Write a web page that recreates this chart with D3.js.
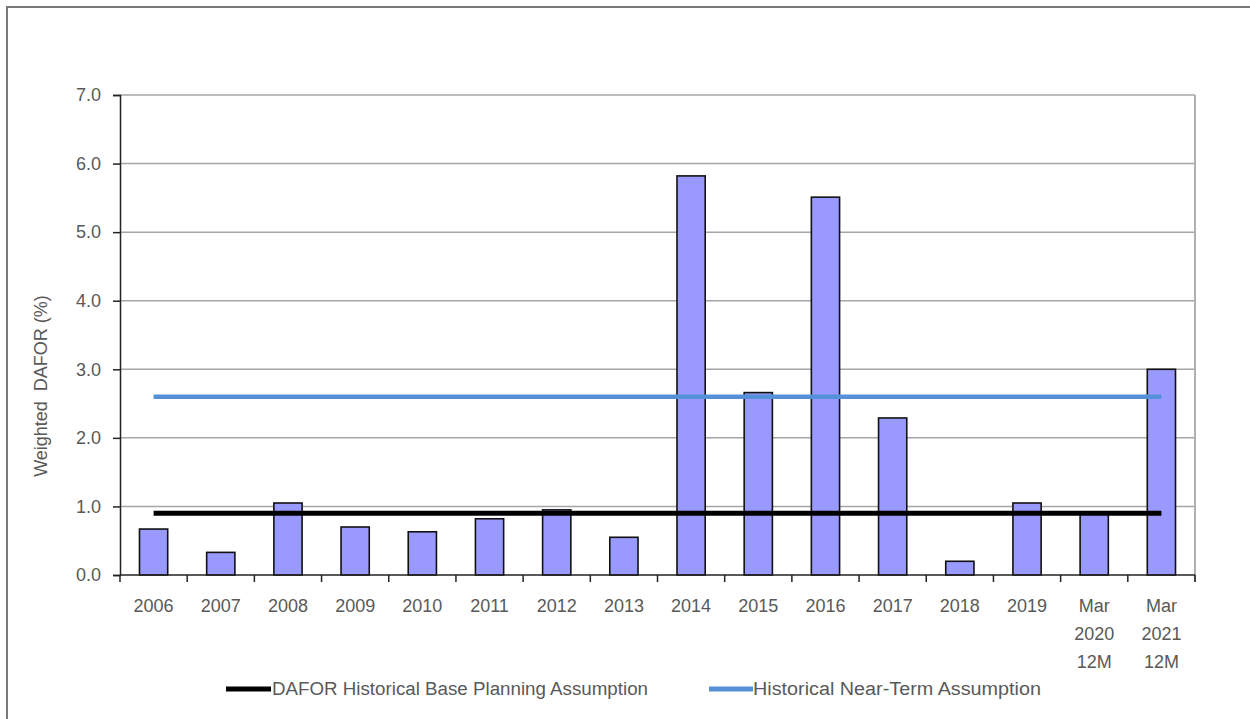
<!DOCTYPE html>
<html>
<head>
<meta charset="utf-8">
<script src="https://cdn.jsdelivr.net/npm/d3@7"></script>
<style>
  html, body { margin: 0; padding: 0; background: #fff; }
  svg { display: block; }
  text { font-family: "Liberation Sans", Arial, sans-serif; fill: #595959; }
</style>
</head>
<body>
<svg id="chart" width="1250" height="719"></svg>
<script>
// Categories (multi-line labels use "\n")
const categories = ["2006","2007","2008","2009","2010","2011","2012","2013",
  "2014","2015","2016","2017","2018","2019","Mar\n2020\n12M","Mar\n2021\n12M"];
// Weighted DAFOR (%) per period
const dafor = [0.67, 0.33, 1.05, 0.70, 0.63, 0.82, 0.95, 0.55,
  5.82, 2.66, 5.51, 2.29, 0.20, 1.05, 0.90, 3.00];
// Reference assumptions
const baseAssumption = 0.9;
const nearTermAssumption = 2.6;
const yTicks = [0, 1, 2, 3, 4, 5, 6, 7];
const legendLabels = ["DAFOR Historical Base Planning Assumption", "Historical Near-Term Assumption"];

const svg = d3.select("#chart");
const plot = { left: 120, right: 1195, top: 95, bottom: 575 };

// Outer frame (top and left edges)
svg.append("path")
  .attr("d", "M7,719 L7,7 L1250,7")
  .attr("fill", "none").attr("stroke", "#7a7a7a").attr("stroke-width", 2);

const x = d3.scaleBand().domain(categories)
  .range([plot.left, plot.right]).paddingInner(0.58).paddingOuter(0.29);
const y = d3.scaleLinear().domain([0, 7]).range([plot.bottom, plot.top]);

// Gridlines
svg.append("g").selectAll("line").data(yTicks.slice(1)).join("line")
  .attr("x1", plot.left).attr("x2", plot.right)
  .attr("y1", d => y(d)).attr("y2", d => y(d))
  .attr("stroke", "#a6a6a6").attr("stroke-width", 1.5);

// Right border of plot area
svg.append("line")
  .attr("x1", plot.right).attr("x2", plot.right)
  .attr("y1", plot.top).attr("y2", plot.bottom + 7)
  .attr("stroke", "#b0b0b0").attr("stroke-width", 2);

// Bars
svg.append("g").selectAll("rect").data(dafor).join("rect")
  .attr("x", (d, i) => x(categories[i]))
  .attr("width", x.bandwidth())
  .attr("y", d => y(d))
  .attr("height", d => y(0) - y(d))
  .attr("fill", "#9999ff").attr("stroke", "#111").attr("stroke-width", 1.6);

// Assumption lines from first to last category centre
const xc = c => x(c) + x.bandwidth() / 2;
const first = categories[0], last = categories[categories.length - 1];
svg.append("line")
  .attr("x1", xc(first)).attr("x2", xc(last))
  .attr("y1", y(nearTermAssumption)).attr("y2", y(nearTermAssumption))
  .attr("stroke", "#5591d8").attr("stroke-width", 4.5);
svg.append("line")
  .attr("x1", xc(first)).attr("x2", xc(last))
  .attr("y1", y(baseAssumption)).attr("y2", y(baseAssumption))
  .attr("stroke", "#000").attr("stroke-width", 5);

// Y axis
const yAxis = svg.append("g").attr("transform", `translate(${plot.left},0)`)
  .call(d3.axisLeft(y).tickValues(yTicks).tickFormat(d3.format(".1f")).tickSize(7).tickPadding(12));
yAxis.select(".domain").attr("stroke", "#222").attr("stroke-width", 1.5);
yAxis.selectAll(".tick line").attr("stroke", "#222").attr("stroke-width", 1.5);
yAxis.selectAll("text").attr("font-size", 18).attr("fill", "#595959")
  .attr("font-family", "Liberation Sans, Arial, sans-serif");

// X axis baseline and ticks at category boundaries
const step = x.step();
const x0 = plot.left;
svg.append("line")
  .attr("x1", plot.left).attr("x2", plot.right)
  .attr("y1", y(0)).attr("y2", y(0))
  .attr("stroke", "#222").attr("stroke-width", 1.5);
svg.append("g").selectAll("line").data(d3.range(categories.length + 1)).join("line")
  .attr("x1", k => x0 + k * step).attr("x2", k => x0 + k * step)
  .attr("y1", y(0)).attr("y2", y(0) + 7)
  .attr("stroke", "#222").attr("stroke-width", 1.5);

// X labels
const xl = svg.append("g").selectAll("text").data(categories).join("text")
  .attr("text-anchor", "middle").attr("font-size", 18)
  .attr("x", c => xc(c)).attr("y", 612);
xl.each(function(c) {
  const lines = c.split("\n");
  d3.select(this).selectAll("tspan").data(lines).join("tspan")
    .attr("x", xc(c)).attr("dy", (d, i) => i === 0 ? 0 : 28).text(d => d);
});

// Y axis title
svg.append("text")
  .attr("transform", "translate(47,386) rotate(-90)")
  .attr("text-anchor", "middle").attr("font-size", 18)
  .attr("xml:space", "preserve")
  .text("Weighted  DAFOR (%)");

// Legend
const legend = [
  { label: legendLabels[0], color: "#000", x1: 226, x2: 271, tx: 272, w: 376 },
  { label: legendLabels[1], color: "#5591d8", x1: 709, x2: 753, tx: 753, w: 288 }
];
const lg = svg.append("g").selectAll("g").data(legend).join("g");
lg.append("line")
  .attr("x1", d => d.x1).attr("x2", d => d.x2).attr("y1", 689).attr("y2", 689)
  .attr("stroke", d => d.color).attr("stroke-width", 5);
lg.append("text")
  .attr("x", d => d.tx).attr("y", 695)
  .attr("font-size", 18)
  .attr("font-family", "Liberation Sans Narrow, Arial Narrow, Liberation Sans, sans-serif")
  .attr("textLength", d => d.w).attr("lengthAdjust", "spacingAndGlyphs")
  .text(d => d.label);
</script>
</body>
</html>
